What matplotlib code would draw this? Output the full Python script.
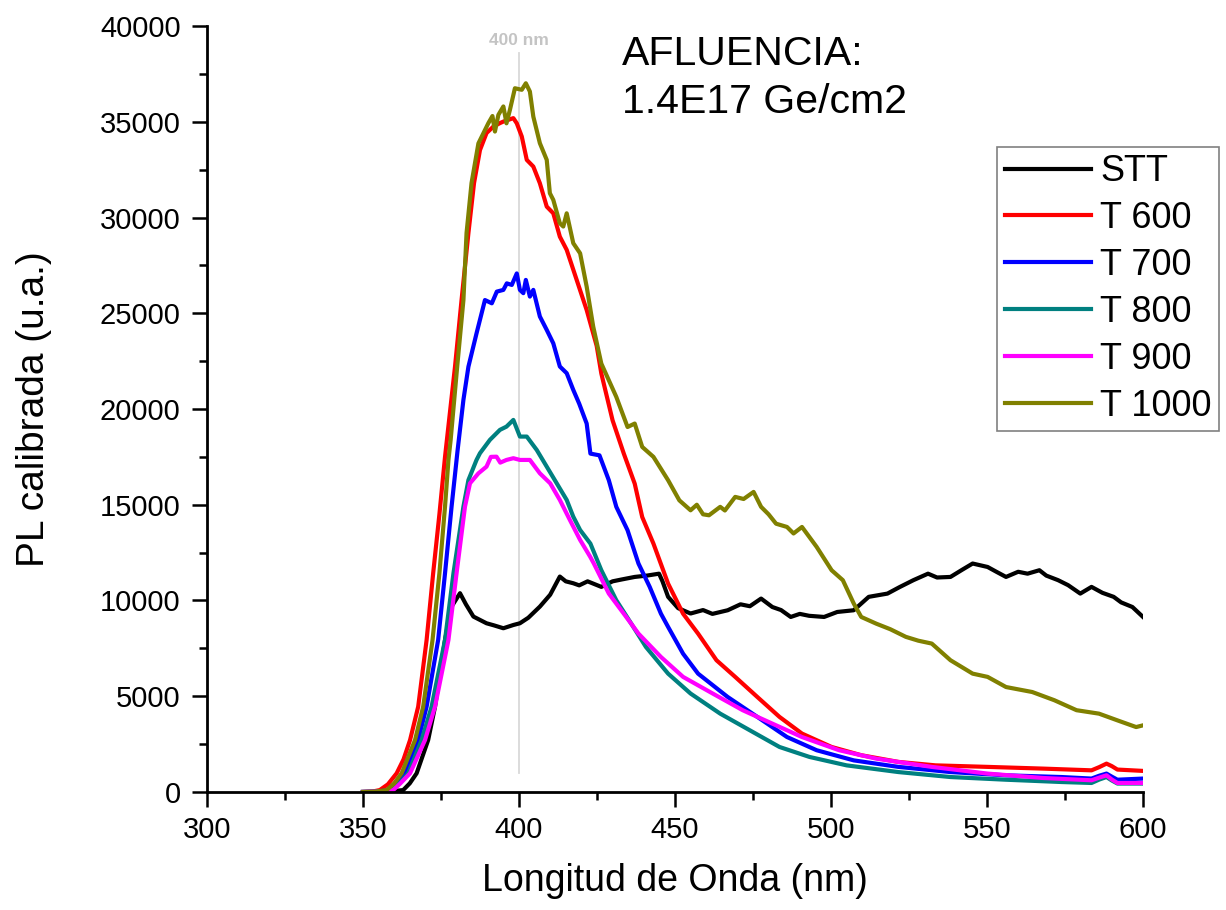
import matplotlib
matplotlib.use("Agg")
import matplotlib.pyplot as plt
from matplotlib.ticker import MultipleLocator

plt.rcParams['font.family'] = ['Liberation Sans', 'DejaVu Sans']

# Photoluminescence spectra (wavelength in nm, calibrated PL in a.u.)
stt_nm = [350, 356, 359, 362.9, 365, 367.2, 370.9, 373.1, 376.3, 378.4, 381.1, 383, 385.4, 389.6,
          392, 395, 398.2, 400.3, 403, 406.7, 410, 413.1, 415, 417.4, 419.3, 422, 426.4, 430,
          433, 437.1, 441, 444.9, 446, 447.8, 451, 455, 459, 462, 466.9, 471, 474, 477.6, 481.2,
          484, 487.1, 490, 493, 497.8, 502, 507.3, 512.1, 518.1, 522, 526.4, 531.1, 534, 538.3,
          542, 545.4, 550.2, 553, 556.1, 560, 563, 566.8, 569, 572.8, 576, 579.9, 583.5, 587,
          590.6, 593, 596.6, 600]
stt_pl = [0, 0, 30, 100, 450, 975, 2715, 4455, 7940, 9680, 10380, 9800, 9160, 8810,
          8700, 8550, 8720, 8810, 9100, 9680, 10300, 11250, 11000, 10900, 10790, 11000, 10710, 11000,
          11100, 11230, 11300, 11400, 11000, 10190, 9600, 9320, 9500, 9300, 9490, 9800, 9700, 10100, 9660,
          9500, 9140, 9300, 9200, 9140, 9400, 9490, 10190, 10360, 10700, 11060, 11400, 11200, 11230,
          11600, 11930, 11750, 11500, 11230, 11500, 11400, 11580, 11300, 11060, 10800, 10360, 10710, 10400,
          10190, 9900, 9660, 9140]

t600_nm = [350, 353, 355.4, 358, 360.8, 363, 365.1, 367.7, 370.4, 372.5, 374.5, 376.3, 379.5,
           381.6, 383.8, 385.6, 387.5, 389.6, 391.8, 393.9, 395, 398.2, 399.3, 400.9, 402.5, 404.6,
           406.7, 408.9, 411, 413.1, 415.3, 418.5, 421.7, 424.9, 426.4, 430, 433.6, 437.1, 439.5,
           443.1, 447.8, 452.6, 457.4, 463.3, 469.3, 476.4, 483.5, 490.7, 500.2, 509.7, 521.6,
           533.5, 550.2, 568, 583.5, 586, 588.3, 590, 591.8, 600]
t600_pl = [0, 20, 100, 400, 975, 1700, 2715, 4455, 7940, 11420, 14500, 17500, 22210,
           25690, 29190, 31800, 33520, 34410, 34750, 34930, 35010, 35190, 34920, 34230, 33010, 32660,
           31790, 30570, 30220, 29000, 28310, 26740, 25170, 23300, 21850, 19410, 17670, 16100, 14360,
           12970, 10880, 9310, 8270, 6880, 6010, 4960, 3920, 3050, 2350, 1920, 1570,
           1390, 1310, 1220, 1130, 1300, 1480, 1350, 1170, 1100]

t700_nm = [350, 354, 358.7, 361, 363.5, 367.7, 370.4, 374.1, 376.3, 378.4, 380.3, 382.2, 383.8,
           386.4, 389.1, 391.3, 392.9, 395, 396.1, 397.7, 399.3, 400.3, 401.4, 402.2, 403.5, 404.6,
           406.7, 408.9, 411, 413.1, 415.3, 417.4, 419.3, 421.7, 422.9, 425.8, 428.8, 431.2, 434.8,
           438.3, 441.9, 445.5, 447.8, 450.2, 452.6, 457.4, 466.9, 476.4, 485.9, 495.4, 507.3,
           521.6, 538.3, 556.1, 573.9, 583.5, 586, 588.3, 590, 591.8, 600]
t700_pl = [0, 20, 100, 450, 975, 2715, 4455, 7940, 11420, 14900, 17800, 20480, 22210,
           23950, 25690, 25520, 26130, 26220, 26560, 26480, 27080, 26220, 26050, 26740, 25870, 26220,
           24830, 24130, 23430, 22220, 21870, 21000, 20280, 19240, 17670, 17580, 16280, 14890, 13670,
           11930, 10710, 9310, 8620, 7920, 7220, 6180, 4960, 3920, 2870, 2180, 1650,
           1310, 1040, 870, 780, 700, 850, 960, 800, 640, 700]

t800_nm = [350, 355, 359.2, 362, 364.5, 368.8, 372, 376.3, 379, 382.2, 383.8, 386.4, 387.5, 390.7,
           393.9, 396, 398.2, 400.3, 402.5, 405.7, 408.9, 412.1, 415.3, 417.4, 419.6, 422.9, 426.4,
           431.2, 436, 440.7, 447.8, 455, 464.5, 474, 483.5, 493.1, 505, 521.6, 538.3, 556.1,
           573.9, 583.5, 586, 588.3, 590, 591.8, 600]
t800_pl = [0, 20, 100, 500, 975, 2715, 4455, 7940, 11420, 14900, 16290, 17340, 17690, 18390,
           18910, 19080, 19430, 18560, 18560, 17860, 16990, 16120, 15250, 14380, 13680, 12970, 11580,
           10010, 8790, 7570, 6180, 5140, 4090, 3220, 2350, 1830, 1390, 1040, 780, 640,
           520, 470, 650, 780, 600, 440, 440]

t900_nm = [350, 355, 359.7, 362, 365.1, 369.9, 373.1, 377.4, 380, 382.7, 384.3, 387, 389.6, 391,
           392.8, 394, 396, 398.2, 400.3, 403.5, 406.7, 410, 413.1, 416.3, 419.6, 422.8, 424,
           428.8, 433.6, 438.3, 445.5, 452.6, 462.1, 471.7, 481.2, 490.7, 502.6, 514.5, 532.3,
           550.2, 568, 583.5, 586, 588.3, 590, 591.8, 600]
t900_pl = [0, 20, 100, 450, 975, 2715, 4455, 7940, 11420, 14900, 16120, 16640, 16990, 17500,
           17510, 17200, 17340, 17430, 17340, 17340, 16640, 16120, 15250, 14210, 13160, 12290, 11930,
           10360, 9310, 8270, 7050, 6010, 5140, 4270, 3570, 2870, 2180, 1740, 1310,
           960, 730, 610, 750, 870, 650, 470, 470]

t1000_nm = [350, 354, 357.6, 360, 362.4, 366.7, 369.3, 372.3, 374.5, 376.3, 377.4, 378.1, 380.2,
            382.2, 383.2, 384.8, 387, 390.2, 391.5, 392.3, 393.4, 395, 396, 397.1, 398.7, 400.9,
            402.2, 403.5, 404.6, 406.7, 408.9, 409.9, 411, 413.1, 414.2, 415.3, 417.4, 419.6, 421.7,
            423.8, 426.4, 431.2, 434.8, 437.1, 439.5, 443.1, 447.8, 451.4, 455, 457, 459, 460.9,
            464.5, 466, 469.3, 472, 475.2, 477.6, 480, 482.4, 485.9, 488, 490.7, 495.4, 500.2,
            503.8, 507.3, 509.7, 514.5, 519, 524, 528, 532.3, 538.3, 545.4, 550.2, 556.1, 564.5,
            571.6, 578.7, 585.9, 591.8, 597.8, 600]
t1000_pl = [0, 20, 100, 450, 975, 2715, 4455, 7940, 11420, 14900, 17340, 18380, 22210,
            25690, 29190, 31800, 33870, 34930, 35300, 34490, 35360, 35800, 34920, 35620, 36750, 36670,
            37010, 36580, 35270, 33880, 33010, 31270, 30920, 29700, 29530, 30220, 28660, 28130, 26390,
            24300, 22370, 20630, 19060, 19240, 18020, 17500, 16280, 15230, 14710, 15000, 14500, 14450,
            14890, 14700, 15410, 15300, 15670, 14890, 14500, 14010, 13840, 13500, 13840, 12800, 11580,
            11060, 9840, 9140, 8790, 8500, 8100, 7900, 7750, 6880, 6180, 6010, 5480, 5220,
            4790, 4270, 4090, 3740, 3390, 3480]

labels = ["STT", "T 600", "T 700", "T 800", "T 900", "T 1000"]
colors = ["#000000", "#ff0000", "#0000ff", "#008080", "#ff00ff", "#808000"]
series = [(stt_nm, stt_pl), (t600_nm, t600_pl), (t700_nm, t700_pl),
          (t800_nm, t800_pl), (t900_nm, t900_pl), (t1000_nm, t1000_pl)]

fig = plt.figure(figsize=(12.26, 9.10), dpi=100)
ax = fig.add_axes([0.1688, 0.1297, 0.9323 - 0.1688, 0.9714 - 0.1297])

# reference line at 400 nm
ax.plot([400, 400], [1000, 38600], color="#d9d9d9", lw=1.3, zorder=1)
ax.text(400, 39250, "400 nm", color="#c4c4c4", fontsize=12.5, fontweight="bold",
        ha="center", va="center", zorder=1)

for (x, y), lab, c in zip(series, labels, colors):
    ax.plot(x, y, color=c, lw=3.0, label=lab, zorder=2, solid_joinstyle="round")

ax.set_xlim(300, 600)
ax.set_ylim(0, 40000)
ax.xaxis.set_major_locator(MultipleLocator(50))
ax.xaxis.set_minor_locator(MultipleLocator(25))
ax.yaxis.set_major_locator(MultipleLocator(5000))
ax.yaxis.set_minor_locator(MultipleLocator(2500))

for s in ("top", "right"):
    ax.spines[s].set_visible(False)
for s in ("left", "bottom"):
    ax.spines[s].set_linewidth(2.0)

ax.tick_params(which="major", direction="out", length=11, width=1.8, labelsize=21, pad=6)
ax.tick_params(which="minor", direction="out", length=6, width=1.8)
ax.tick_params(axis="y", which="major", pad=8)

ax.set_xlabel("Longitud de Onda (nm)", fontsize=27, labelpad=14)
ax.set_ylabel("PL calibrada (u.a.)", fontsize=28, labelpad=34)

ax.text(433, 37960, "AFLUENCIA:", fontsize=29.5, ha="left", va="baseline")
ax.text(433, 35440, "1.4E17 Ge/cm2", fontsize=29.5, ha="left", va="baseline")

leg = ax.legend(loc="upper right", bbox_to_anchor=(1219 / 1226, 1 - 147 / 910),
                bbox_transform=fig.transFigure, borderaxespad=0, fontsize=26,
                handlelength=2.4, handletextpad=0.25, borderpad=0.2, labelspacing=0.33,
                fancybox=False, framealpha=1, edgecolor="#808080")
leg.get_frame().set_linewidth(1.2)
for line in leg.get_lines():
    line.set_linewidth(3.0)

fig.savefig("out.png", dpi=100, facecolor="white")
